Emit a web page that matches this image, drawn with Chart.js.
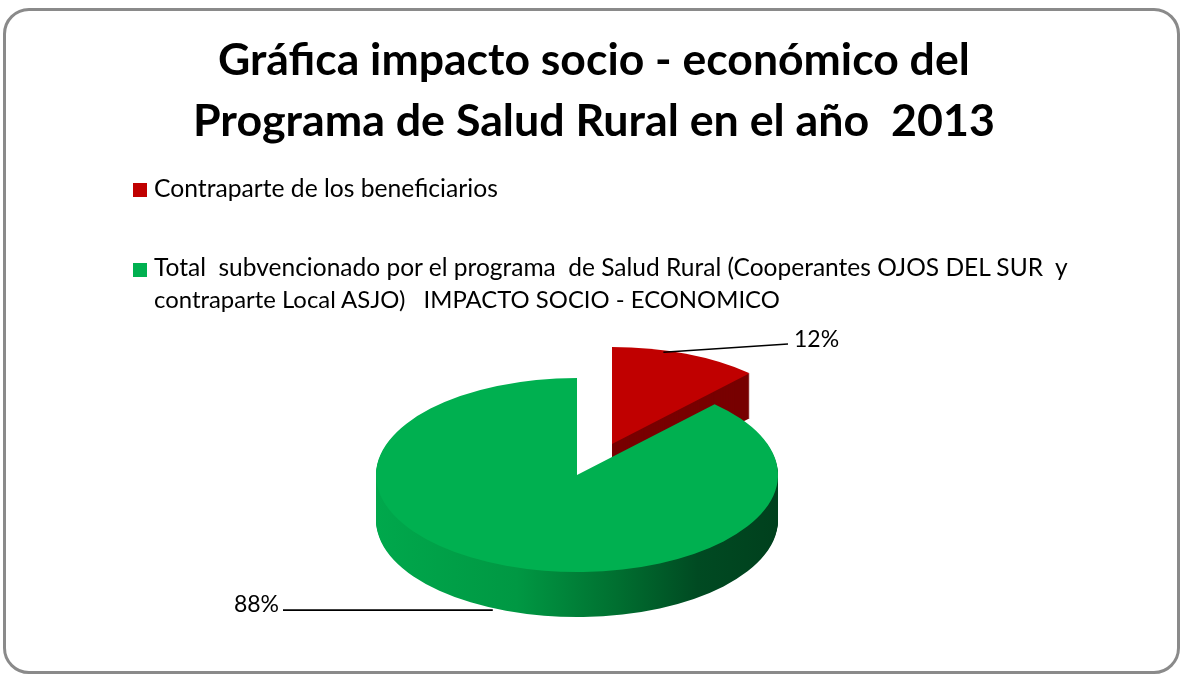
<!DOCTYPE html>
<html><head><meta charset="utf-8">
<script src="https://cdn.jsdelivr.net/npm/chart.js@4.4.0/dist/chart.umd.min.js"></script>
<style>
html,body{margin:0;padding:0;background:#fff;width:1183px;height:677px;overflow:hidden;font-family:Lato,"Open Sans",sans-serif;}
#frame{position:absolute;left:3px;top:8px;width:1171px;height:660px;border:3.5px solid #8a8a8a;border-radius:26px;}
#c{position:absolute;left:0;top:0;}
.t{position:absolute;white-space:pre;color:#000;line-height:1;left:0;top:0;}
.sq{position:absolute;width:14px;height:14px;}
</style></head><body>
<div id="frame"></div>
<canvas id="c" width="1183" height="677"></canvas>
<div id="title1" class="t" style="font-weight:bold"></div>
<div id="title2" class="t" style="font-weight:bold"></div>
<div id="sq0" class="sq"></div>
<div id="sq1" class="sq"></div>
<div id="leg0" class="t"></div>
<div id="leg1a" class="t"></div>
<div id="leg1b" class="t"></div>
<script>
// ---- data ----
const titleLines = ["Gráfica impacto socio - económico del", "Programa de Salud Rural en el año  2013"];
const categories = ["Contraparte de los beneficiarios",
  "Total  subvencionado por el programa  de Salud Rural (Cooperantes OJOS DEL SUR  y contraparte Local ASJO)   IMPACTO SOCIO - ECONOMICO"];
const legendLines = [["Contraparte de los beneficiarios"],
  ["Total  subvencionado por el programa  de Salud Rural (Cooperantes OJOS DEL SUR  y", "contraparte Local ASJO)   IMPACTO SOCIO - ECONOMICO"]];
const values = [12, 88];
const topColors = ["#C00000", "#00B050"];
const sideColors = ["#780000", null];

// ---- text placement ----
const ASC = 0.887; // baseline offset for line-height 1 (Lato)
function place(id, text, left, right, baseline) {
  const el = document.getElementById(id);
  el.textContent = text;
  el.style.fontSize = "40px";
  const w = el.getBoundingClientRect().width;
  const fs = 40 * (right - left) / w;
  el.style.fontSize = fs + "px";
  el.style.left = left + "px";
  el.style.top = (baseline - ASC * fs) + "px";
}
place("title1", titleLines[0], 218, 970, 75);
place("title2", titleLines[1], 193, 995, 137);
place("leg0", legendLines[0][0], 154, 498, 198);
place("leg1a", legendLines[1][0], 154, 1068, 277);
place("leg1b", legendLines[1][1], 154, 780, 308);
const sq0 = document.getElementById("sq0");
sq0.style.left = "133px"; sq0.style.top = "183px"; sq0.style.background = topColors[0];
const sq1 = document.getElementById("sq1");
sq1.style.left = "133px"; sq1.style.top = "263px"; sq1.style.background = topColors[1];

// ---- 3D pie geometry ----
const CX = 577, CY = 475, RX = 201, RY = 97, DEPTH = 45;
const SY = RY / RX;
const explode = [[35, -31], [0, 0]];

function slicePath(ctx, el, ox, oy, d) {
  const p = el.getProps(['x', 'y', 'startAngle', 'endAngle', 'outerRadius']);
  ctx.save();
  ctx.translate(p.x + ox, p.y + oy + d);
  ctx.scale(1, SY);
  ctx.beginPath();
  ctx.moveTo(0, 0);
  ctx.arc(0, 0, p.outerRadius, p.startAngle, p.endAngle);
  ctx.closePath();
  ctx.restore();
}

const pie3d = {
  id: 'pie3d',
  beforeDatasetsDraw(chart) {
    const ctx = chart.ctx;
    const meta = chart.getDatasetMeta(0);
    const greenGrad = ctx.createLinearGradient(CX - RX, 0, CX + RX, 0);
    greenGrad.addColorStop(0, "#00a84c");
    greenGrad.addColorStop(0.35, "#009843");
    greenGrad.addColorStop(0.6, "#006f30");
    greenGrad.addColorStop(0.8, "#004a22");
    greenGrad.addColorStop(1, "#00401d");
    [0, 1].forEach(i => {
      const el = meta.data[i];
      const [ox, oy] = explode[i];
      ctx.fillStyle = sideColors[i] || greenGrad;
      for (let d = DEPTH; d >= 1; d--) { slicePath(ctx, el, ox, oy, d); ctx.fill(); }
      ctx.fillStyle = topColors[i];
      slicePath(ctx, el, ox, oy, 0); ctx.fill();
    });
    const total = values.reduce((a, b) => a + b, 0);
    ctx.save();
    ctx.strokeStyle = "#000"; ctx.lineWidth = 1.6;
    ctx.fillStyle = "#000";
    ctx.font = "23px Lato, 'Open Sans', sans-serif";
    ctx.textBaseline = "alphabetic";
    {
      const p = meta.data[0].getProps(['x', 'y', 'startAngle', 'endAngle', 'outerRadius']);
      const a = p.startAngle + (p.endAngle - p.startAngle) * 0.35;
      const sx = p.x + explode[0][0] + Math.cos(a) * p.outerRadius * 0.98;
      const sy = p.y + explode[0][1] + Math.sin(a) * p.outerRadius * 0.98 * SY;
      ctx.beginPath(); ctx.moveTo(sx, sy); ctx.lineTo(788, 344); ctx.stroke();
      ctx.textAlign = "left";
      ctx.fillText(Math.round(values[0] / total * 100) + "%", 794, 347);
    }
    {
      const p = meta.data[1].getProps(['x', 'y', 'startAngle', 'endAngle', 'outerRadius']);
      const a = p.startAngle + (p.endAngle - p.startAngle) * 0.51;
      const sx = p.x + Math.cos(a) * p.outerRadius;
      const sy = p.y + Math.sin(a) * p.outerRadius * SY + DEPTH + 2;
      ctx.beginPath(); ctx.moveTo(sx, sy); ctx.lineTo(283, sy); ctx.stroke();
      ctx.textAlign = "right";
      ctx.fillText(Math.round(values[1] / total * 100) + "%", 279, sy + 2);
    }
    ctx.restore();
    return false;
  }
};

new Chart(document.getElementById('c'), {
  type: 'pie',
  data: {
    labels: categories,
    datasets: [{ data: values, backgroundColor: topColors, borderWidth: 0 }]
  },
  options: {
    responsive: false,
    animation: false,
    layout: { padding: { left: CX - RX, right: 1183 - (CX + RX), top: CY - RX, bottom: 677 - (CY + RX) } },
    plugins: { legend: { display: false }, title: { display: false }, tooltip: { enabled: false } }
  },
  plugins: [pie3d]
});
</script>
</body></html>
